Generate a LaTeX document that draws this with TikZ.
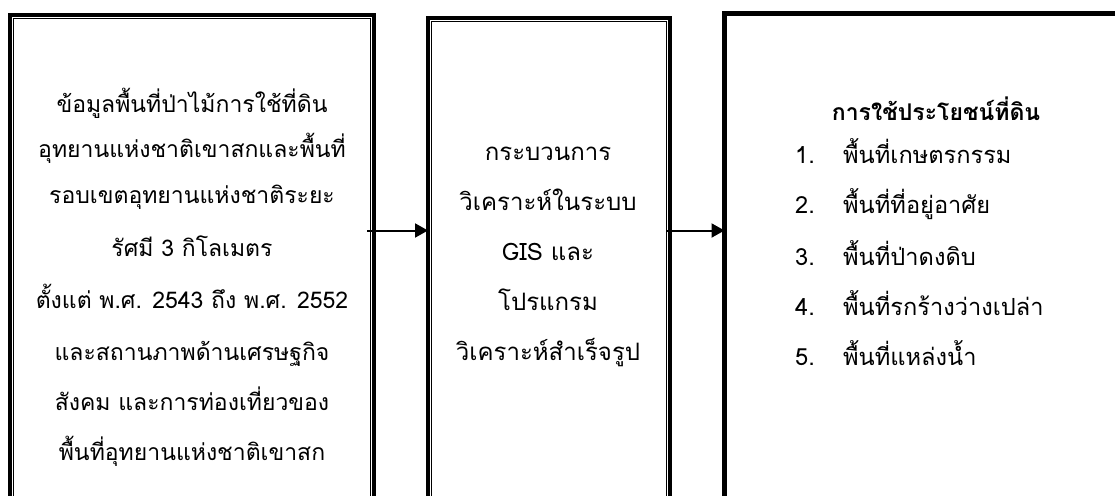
\documentclass[tikz,border=0pt]{standalone}
\usepackage{fontspec}
\newfontfamily\thai[Script=Thai]{Loma}
\usetikzlibrary{arrows.meta}
\begin{document}
\begin{tikzpicture}[x=1pt,y=-1pt,
  thickbox/.style={draw=black,line width=4pt,rectangle,inner sep=0pt,outer sep=0pt},
  heavybox/.style={draw=black,line width=5pt,rectangle,inner sep=0pt,outer sep=0pt},
  innerline/.style={draw=black,line width=1pt},
  txt/.style={font=\thai\fontsize{24}{28}\selectfont,anchor=base,inner sep=0pt},
  lefttxt/.style={txt,font=\thai\fontsize{23}{27}\selectfont},
  ltxt/.style={font=\thai\fontsize{23.6}{28}\selectfont,anchor=base west,inner sep=0pt},
  arr/.style={line width=2pt,-{Triangle[length=13pt,width=14pt]}}]
\useasboundingbox (0,0) rectangle (1115,495);
\clip (0,0) rectangle (1115,495);
\fill[white] (0,0) rectangle (1115,495);
% boxes
\node[thickbox,minimum width=364pt,minimum height=520pt,anchor=north west] (L) at (10,15.3) {};
\draw[innerline] ([shift={(3.6,3.5)}]L.north west) rectangle ([shift={(-3.6,0)}]L.south east);
\node[thickbox,minimum width=242pt,minimum height=520pt,anchor=north west] (M) at (428,18) {};
\draw[innerline] ([shift={(3.6,3.5)}]M.north west) rectangle ([shift={(-3.6,0)}]M.south east);
\node[heavybox,minimum width=420pt,minimum height=520pt,anchor=north west] (R) at (724.5,13.5) {};
% left text
\foreach \t/\y [count=\i] in {ข้อมูลพื้นที่ป่าไม้การใช้ที่ดิน/112,อุทยานแห่งชาติเขาสกและพื้นที่/157,รอบเขตอุทยานแห่งชาติระยะ/203,รัศมี 3 กิโลเมตร/256,ตั้งแต่ พ.ศ. 2543 ถึง พ.ศ. 2552/308,และสถานภาพด้านเศรษฐกิจ/360,สังคม และการท่องเที่ยวของ/410,พื้นที่อุทยานแห่งชาติเขาสก/460}
  {\node[lefttxt] (l\i) at (192,\y) {\t};}
% middle text
\foreach \t/\y [count=\i] in {กระบวนการ/160,วิเคราะห์ในระบบ/210,GIS และ/260,โปรแกรม/310,วิเคราะห์สำเร็จรูป/360}
  {\node[txt] (m\i) at (548,\y) {\t};}
% right text
\node[txt,font=\thai\bfseries\fontsize{23}{27}\selectfont] (rt) at (936,120) {การใช้ประโยชน์ที่ดิน};
\foreach \t/\y [count=\i] in {พื้นที่เกษตรกรรม/163,พื้นที่ที่อยู่อาศัย/213,พื้นที่ป่าดงดิบ/265,พื้นที่รกร้างว่างเปล่า/315,พื้นที่แหล่งน้ำ/365}
  {\node[ltxt] (n\i) at (795,\y) {\i.};
   \node[ltxt] (r\i) at (843,\y) {\t};}
% arrows
\coordinate (a1) at (367,230.5);
\draw[arr] (a1) -- (a1 -| M.west);
\draw[arr] ([xshift=-4pt]M.east |- a1) -- (R.west |- a1);
\end{tikzpicture}
\end{document}
